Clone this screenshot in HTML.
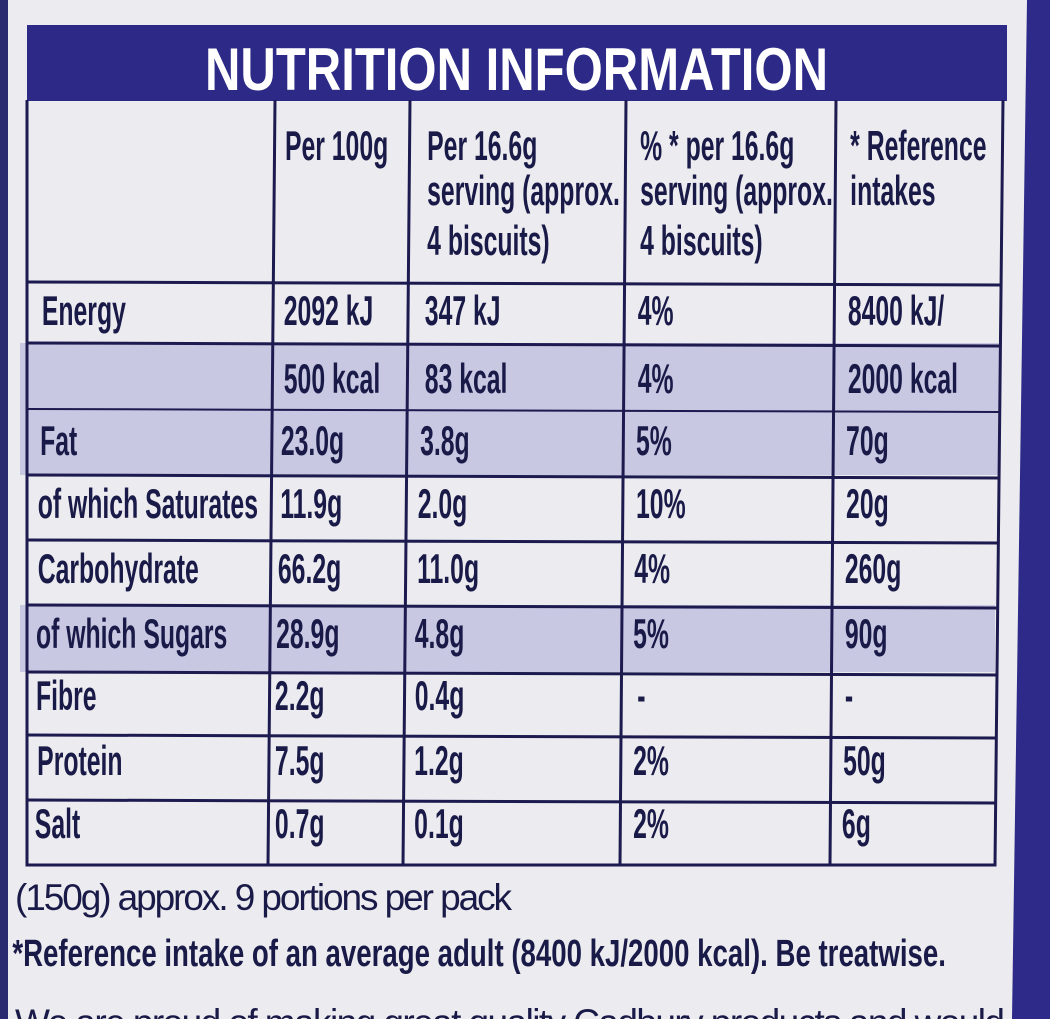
<!DOCTYPE html>
<html><head><style>html,body{margin:0;padding:0;background:#ececf0;}svg{display:block}</style></head>
<body>
<svg width="1050" height="1019" viewBox="0 0 1050 1019" xmlns="http://www.w3.org/2000/svg">
<rect width="1050" height="1019" fill="#ececf0"/>
<rect x="0" y="0" width="8" height="1019" fill="#2a2a70"/>
<polygon points="1027,0 1050,0 1050,1019 1012,1019" fill="#2e2a8a"/>
<rect x="27" y="25" width="980" height="76" fill="#2c2a86"/>
<text x="205" y="90" fill="#ffffff" font-family="Liberation Sans, sans-serif" font-weight="bold" font-size="60" textLength="623" lengthAdjust="spacingAndGlyphs">NUTRITION INFORMATION</text>
<g fill="#c9c8e2">
<rect x="20" y="343" width="980" height="132"/>
<rect x="20" y="605" width="975" height="67"/>
</g>
<g stroke="#1c1a4e" stroke-width="3" fill="none">
<polyline points="27,100 27,865 995,865 1003,100"/>
<line x1="275" y1="100" x2="268" y2="865"/>
<line x1="410" y1="100" x2="403" y2="865"/>
<line x1="626" y1="100" x2="620" y2="865"/>
<line x1="836" y1="100" x2="830" y2="865"/>
<line x1="27" y1="282" x2="1002" y2="285"/>
<line x1="27" y1="343" x2="1001" y2="346"/>
<line x1="27" y1="475" x2="1000" y2="478"/>
<line x1="27" y1="540" x2="999" y2="543"/>
<line x1="27" y1="605" x2="998" y2="608"/>
<line x1="27" y1="672" x2="997" y2="675"/>
<line x1="27" y1="735" x2="996" y2="738"/>
<line x1="27" y1="800" x2="995" y2="803"/>
</g>
<g stroke="#1c1a4e" stroke-width="2">
<line x1="27" y1="409" x2="1000" y2="412"/>
</g>
<g transform="scale(0.59,1)" fill="#1a1a48" font-family="Liberation Sans, sans-serif" font-weight="bold" font-size="42">
<text x="483" y="160">Per 100g</text>
<text x="724" y="160">Per 16.6g</text>
<text x="724" y="205">serving (approx.</text>
<text x="724" y="255">4 biscuits)</text>
<text x="1085" y="160">% * per 16.6g</text>
<text x="1085" y="205">serving (approx.</text>
<text x="1085" y="255">4 biscuits)</text>
<text x="1441" y="160">* Reference</text>
<text x="1441" y="205">intakes</text>

<text x="71" y="325">Energy</text>
<text x="481" y="325">2092 kJ</text>
<text x="720" y="325">347 kJ</text>
<text x="1081" y="325">4%</text>
<text x="1437" y="325">8400 kJ/</text>

<text x="481" y="393">500 kcal</text>
<text x="720" y="393">83 kcal</text>
<text x="1081" y="393">4%</text>
<text x="1437" y="393">2000 kcal</text>

<text x="68" y="455">Fat</text>
<text x="476" y="455">23.0g</text>
<text x="712" y="455">3.8g</text>
<text x="1078" y="455">5%</text>
<text x="1434" y="455">70g</text>

<text x="64" y="518">of which Saturates</text>
<text x="475" y="518">11.9g</text>
<text x="708" y="518">2.0g</text>
<text x="1078" y="518">10%</text>
<text x="1434" y="518">20g</text>

<text x="64" y="583">Carbohydrate</text>
<text x="471" y="583">66.2g</text>
<text x="707" y="583">11.0g</text>
<text x="1075" y="583">4%</text>
<text x="1432" y="583">260g</text>

<text x="61" y="648">of which Sugars</text>
<text x="468" y="648">28.9g</text>
<text x="703" y="648">4.8g</text>
<text x="1073" y="648">5%</text>
<text x="1432" y="648">90g</text>

<text x="61" y="710">Fibre</text>
<text x="466" y="710">2.2g</text>
<text x="703" y="710">0.4g</text>
<text x="1080" y="710">-</text>
<text x="1432" y="710">-</text>

<text x="63" y="775">Protein</text>
<text x="466" y="775">7.5g</text>
<text x="702" y="775">1.2g</text>
<text x="1073" y="775">2%</text>
<text x="1429" y="775">50g</text>

<text x="59" y="838">Salt</text>
<text x="466" y="838">0.7g</text>
<text x="702" y="838">0.1g</text>
<text x="1073" y="838">2%</text>
<text x="1427" y="838">6g</text>
</g>
<g fill="#1a1a48" font-family="Liberation Sans, sans-serif" font-size="37" lengthAdjust="spacingAndGlyphs">
<text x="15" y="910" textLength="497">(150g) approx. 9 portions per pack</text>
<text x="15" y="1035" textLength="990">We are proud of making great quality Cadbury products and would</text>
</g>
<g transform="scale(0.727,1)" fill="#1a1a48" font-family="Liberation Sans, sans-serif" font-size="38" font-weight="bold">
<text x="17" y="966">*Reference intake of an average adult (8400 kJ/2000 kcal). Be treatwise.</text>
</g>
</svg>
</body></html>
